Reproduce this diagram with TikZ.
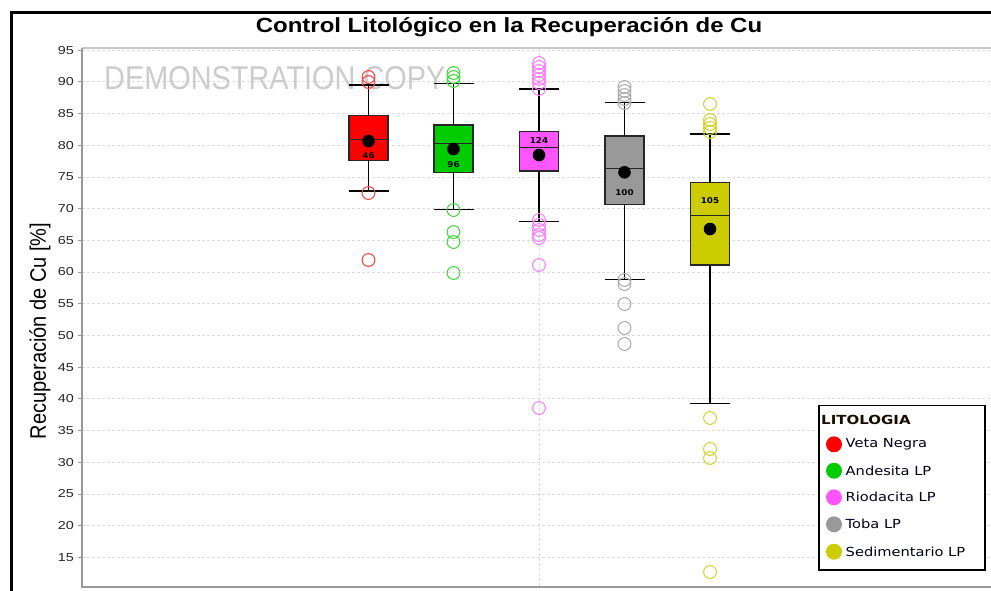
\documentclass[tikz,border=0pt]{standalone}
\usepackage{fontspec}
\setmainfont{Liberation Sans}
\newfontfamily\legfont{DejaVu Sans}
\definecolor{cred}{HTML}{FF0000}
\definecolor{cgreen}{HTML}{00CC00}
\definecolor{cmag}{HTML}{FF55FF}
\definecolor{cgray}{HTML}{999999}
\definecolor{cyel}{HTML}{CCCC00}
\definecolor{ored}{HTML}{FF3a3a}
\definecolor{ogreen}{HTML}{3ad93a}
\definecolor{omag}{HTML}{FF77FF}
\definecolor{ogray}{HTML}{AAAAAA}
\definecolor{oyel}{HTML}{D2D22A}
\definecolor{gridc}{HTML}{DDDDDD}
\definecolor{axisc}{HTML}{999999}
\begin{document}
\begin{tikzpicture}[x=1pt,y=-1pt,
  gridline/.style={draw=gridc, dash pattern=on 3pt off 2pt, line width=0.7pt},
  boxst/.style={draw=black!85, line width=1.4pt},
  whisk/.style={draw=black, line width=1.3pt},
  outl/.style={line width=1pt, fill=none},
  meandot/.style={fill=black, draw=none},
  ticklab/.style={anchor=east, font=\fontsize{11.5}{13}\selectfont, text=black!85, inner sep=0pt, xscale=1.25},
  boxlab/.style={font=\legfont\bfseries\fontsize{8}{9}\selectfont, inner sep=0pt, xscale=1.1},
  legtext/.style={anchor=west, font=\legfont\fontsize{12.5}{14}\selectfont, text=black!90!blue, inner sep=0pt, xscale=1.17}]
\useasboundingbox (0,0) rectangle (991,590);
\fill[white] (0,0) rectangle (991,590);
% grid
\foreach \v in {15,20,...,95}{
  \draw[gridline] (82,{557.3-(\v-15)*6.34}) -- (991,{557.3-(\v-15)*6.34});
  \draw[draw=axisc, line width=0.8pt] (77.5,{557.3-(\v-15)*6.34}) -- (82,{557.3-(\v-15)*6.34});
  \node[ticklab] (t\v) at (74,{557.3-(\v-15)*6.34}) {\v};
}
\draw[gridline] (539,48) -- (539,586);
% watermark
\node[inner sep=0pt, text=black!20, font=\fontsize{33}{36}\selectfont, xscale=0.875, anchor=west] (wm) at (104,78) {DEMONSTRATION COPY};
% whiskers
\foreach \x/\t/\b/\uc/\lc in {368.5/115.7/160.7/85/191, 453.5/125/172.7/83.7/209.7, 539/131.3/171/89/221.7, 624.5/136/204.3/102.3/279.7, 710/182.7/265/134/403.3}{
  \draw[whisk] (\x,\t) -- (\x,\uc);
  \draw[whisk] (\x,\b) -- (\x,\lc);
  \draw[whisk] (\x-20,\uc) -- (\x+20,\uc);
  \draw[whisk] (\x-20,\lc) -- (\x+20,\lc);
}
% outliers
\foreach \y in {77,82,193,260} \draw[outl, draw=ored] (368.5,\y) circle (6.4);
\foreach \y in {73,77,81,210,232,242,273} \draw[outl, draw=ogreen] (453.5,\y) circle (6.4);
\foreach \y in {63,67,71,75,79,83,89,220,225,230,235,238,265,408} \draw[outl, draw=omag] (539,\y) circle (6.4);
\foreach \y in {87,91,95,99,103,280,284,304,328,344} \draw[outl, draw=ogray] (624.5,\y) circle (6.4);
\foreach \y in {104,120,124,128,132,418,449,458,572} \draw[outl, draw=oyel] (710,\y) circle (6.4);
% boxes
\foreach \x/\t/\b/\m/\mn/\c/\lab/\ly/\n in {368.5/115.7/160.7/139.7/141/cred/46/155.7/a, 453.5/125/172.7/143.3/149/cgreen/96/165/b, 539/131.3/171/147.3/155/cmag/124/141/c, 624.5/136/204.3/168.3/172.3/cgray/100/192.7/d, 710/182.7/265/215.7/229/cyel/105/200.7/e}{
  \draw[boxst, fill=\c] (\x-19.5,\t) rectangle (\x+19.5,\b);
  \draw[boxst] (\x-19.5,\m) -- (\x+19.5,\m);
  \fill[meandot] (\x,\mn) circle (6.3);
  \node[boxlab] (lab\n) at (\x,\ly) {\lab};
}
% axes
\draw[draw=black!22, line width=1.5pt] (82,48) -- (991,48);
\draw[draw=axisc, line width=1.5pt] (82,48) -- (82,587);
\draw[draw=axisc, line width=2pt] (81.3,587) -- (991,587);
% axis label
\node[rotate=90, inner sep=0pt, font=\fontsize{20}{24}\selectfont] (ylab) at (40,331) {\scalebox{1}[1.12]{Recuperación de Cu [\%]}};
% title
\node[inner sep=0pt, font=\bfseries\fontsize{20.5}{24}\selectfont, xscale=1.17] (title) at (509,27) {Control Litológico en la Recuperación de Cu};
% legend
\draw[fill=white, draw=black, line width=1.5pt] (819,405.5) rectangle (985,570);
\node[anchor=west, inner sep=0pt, font=\legfont\bfseries\fontsize{12.5}{14}\selectfont, text=black!90!orange, xscale=1.2] (legt) at (821,419.5) {LITOLOGIA};
\foreach \yy/\c/\t/\n in {444.3/cred/Veta Negra/1, 470.7/cgreen/Andesita LP/2, 497.3/cmag/Riodacita LP/3, 524.3/cgray/Toba LP/4, 551.7/cyel/Sedimentario LP/5}{
  \fill[\c] (834,\yy) circle (8);
  \node[legtext] (leg\n) at (845.5,\yy) {\t};
}
% outer border
\draw[black, line width=2.5pt] (11.5,591) -- (11.5,12.5) -- (992,12.5);
\end{tikzpicture}
\end{document}
